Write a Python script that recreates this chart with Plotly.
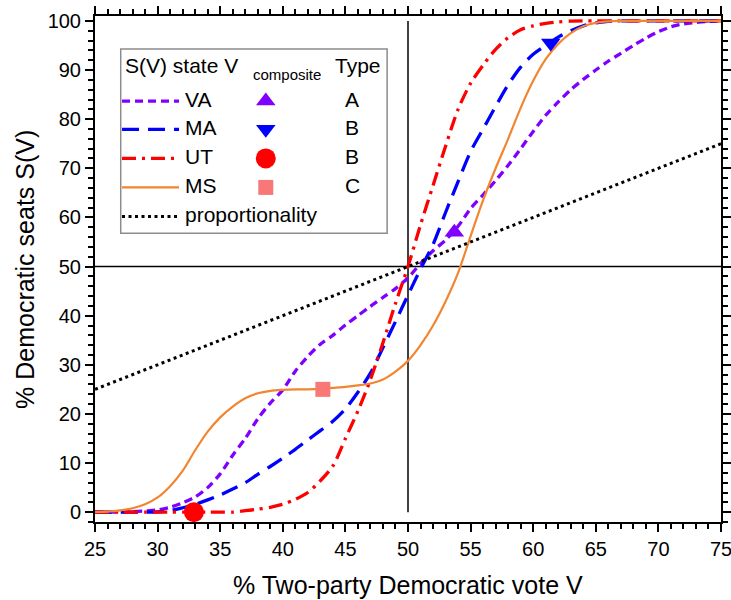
import plotly.graph_objects as go

# ---------------------------------------------------------------------------
# Seats-votes curves S(V) for four states, plus proportional representation
# ---------------------------------------------------------------------------
V = list(range(25, 76))  # % two-party Democratic vote

S_VA = [0, 0, 0.05, 0.1, 0.25, 0.45, 1.0, 1.9, 3.1, 5.0,
        7.8, 11.6, 15.0, 19.0, 22.2, 24.9, 28.7, 31.7, 34.2, 36.0,
        38.1, 40.0, 41.9, 43.7, 45.5, 47.7, 50.6, 53.2, 55.4, 58.2,
        61.8, 64.6, 67.5, 70.6, 74.0, 77.5, 80.8, 83.5, 86.0, 88.1,
        90.0, 91.8, 93.4, 95.0, 96.5, 97.8, 98.8, 99.4, 99.7, 99.9, 100]

S_MA = [0, 0, 0, 0, 0, 0.05, 0.3, 0.9, 1.6, 2.5,
        3.5, 4.7, 6.0, 7.7, 9.3, 11.0, 12.8, 14.7, 16.6, 18.5,
        21.0, 24.4, 28.3, 33.5, 38.8, 44.2, 49.5, 54.5, 61.0, 67.3,
        73.4, 78.0, 82.6, 87.0, 90.6, 93.2, 95.0, 96.7, 98.0, 99.0,
        99.6, 99.9, 100, 100, 100, 100, 100, 100, 100, 100, 100]

S_UT = [0, 0, 0, 0, 0, 0, 0, 0, 0, 0,
        0, 0, 0.3, 0.6, 1.0, 1.6, 2.6, 4.0, 6.4, 9.4,
        15.0, 20.6, 27.0, 34.5, 42.5, 50.0, 58.5, 66.5, 74.5, 82.0,
        87.3, 91.0, 94.2, 96.6, 98.2, 99.0, 99.5, 99.8, 99.95, 100,
        100, 100, 100, 100, 100, 100, 100, 100, 100, 100, 100]

S_MS = [0, 0.1, 0.35, 0.8, 1.6, 3.0, 5.3, 8.4, 12.6, 16.4,
        19.3, 21.5, 23.2, 24.2, 24.7, 24.9, 25.0, 25.0, 25.1, 25.3,
        25.5, 25.8, 26.2, 27.0, 28.6, 30.8, 34.0, 38.0, 42.9, 48.7,
        56.2, 63.5, 70.0, 76.0, 82.3, 87.8, 92.2, 95.3, 97.5, 98.9,
        99.6, 99.9, 100, 100, 100, 100, 100, 100, 100, 100, 100]

PROP_V = [25, 75]
PROP_S = [25, 75]

# Composite vote share of each state and the seat share there
STATES = ["VA", "MA", "UT", "MS"]
TYPES = ["A", "B", "B", "C"]
V_COMPOSITE = [53.7, 61.4, 32.9, 43.2]
S_COMPOSITE = [57.0, 95.5, 0.0, 25.0]

# ---------------------------------------------------------------------------
# Styles
# ---------------------------------------------------------------------------
FONT = "Liberation Sans, Arial, sans-serif"
LINE_COLORS = ["#8000FF", "#0000FF", "#FF0000", "#F28530"]
LINE_DASH = ["8px,5px", "17px,9px", "14px,6px,3px,6px", "solid"]
LINE_WIDTH = [3.3, 3.3, 3.3, 2.2]
MARKER_SYMBOLS = ["triangle-up", "triangle-down", "circle", "square"]
MARKER_COLORS = ["#8000FF", "#0000FF", "#FF0000", "#F87878"]
MARKER_SIZES = [17, 17, 20, 15]
PROP_DASH = "3px,3.5px"

W, H = 731, 600
PL, PR, PT, PB = 95.0, 720.7, 16.0, 521.7  # plot area in pixels
TEXT_DY = -2.0  # nudge so the glyphs sit centred on their row


def px(x):
    return (x - PL) / (PR - PL)


def py(y):
    return (PB - y) / (PB - PT)


fig = go.Figure()

curves = [S_VA, S_MA, S_UT, S_MS]
for name, s, col, dash, lw in zip(STATES, curves, LINE_COLORS, LINE_DASH, LINE_WIDTH):
    fig.add_trace(go.Scatter(
        x=V, y=s, mode="lines", name=name,
        line=dict(color=col, dash=dash, width=lw, shape="spline", smoothing=0.8),
        showlegend=False, hoverinfo="skip"))

fig.add_trace(go.Scatter(
    x=PROP_V, y=PROP_S, mode="lines", name="proportionality",
    line=dict(color="black", dash=PROP_DASH, width=3),
    showlegend=False, hoverinfo="skip"))

for i in range(len(STATES)):
    fig.add_trace(go.Scatter(
        x=[V_COMPOSITE[i]], y=[S_COMPOSITE[i]], mode="markers",
        marker=dict(symbol=MARKER_SYMBOLS[i], color=MARKER_COLORS[i], opacity=1,
                    size=MARKER_SIZES[i], line=dict(width=0)),
        showlegend=False, hoverinfo="skip", cliponaxis=False))

# ---------------------------------------------------------------------------
# Hand-built legend table: line sample | state | V_composite marker | type
# ---------------------------------------------------------------------------
ROW_Y = [101.0, 129.3, 158.3, 187.3]
PROP_ROW_Y = 216.5
SAMPLE_X0, SAMPLE_X1 = 122.0, 179.0
LABEL_X = 183.0
MARKER_X = 265.7
TYPE_X = 352.3
BOX = (120.7, 49.0, 387.0, 233.0)

shapes = [
    dict(type="rect", xref="paper", yref="paper",
         x0=px(BOX[0]), x1=px(BOX[2]), y0=py(BOX[3]), y1=py(BOX[1]),
         line=dict(color="#8c8c8c", width=1.5), fillcolor="white", layer="below"),
    # reference lines at 50 % vote and 50 % seats
    dict(type="line", xref="x", yref="y", x0=50, x1=50, y0=0, y1=100,
         line=dict(color="black", width=1.5), layer="below"),
    dict(type="line", xref="x", yref="y", x0=25, x1=75, y0=50, y1=50,
         line=dict(color="black", width=1.5), layer="below"),
]
for i in range(len(STATES)):
    shapes.append(dict(type="line", xref="paper", yref="paper",
                       x0=px(SAMPLE_X0), x1=px(SAMPLE_X1), y0=py(ROW_Y[i]), y1=py(ROW_Y[i]),
                       line=dict(color=LINE_COLORS[i], dash=LINE_DASH[i], width=LINE_WIDTH[i])))
shapes.append(dict(type="line", xref="paper", yref="paper",
                   x0=px(SAMPLE_X0), x1=px(SAMPLE_X1), y0=py(PROP_ROW_Y), y1=py(PROP_ROW_Y),
                   line=dict(color="black", dash=PROP_DASH, width=3)))

fig.add_trace(go.Scatter(
    x=[px(MARKER_X)] * len(STATES), y=[py(r) for r in ROW_Y],
    xaxis="x2", yaxis="y2", mode="markers",
    marker=dict(symbol=MARKER_SYMBOLS, color=MARKER_COLORS, size=MARKER_SIZES,
                opacity=1, line=dict(width=0)),
    showlegend=False, hoverinfo="skip", cliponaxis=False))

LEG_FONT = dict(family=FONT, size=21, color="black")


def label(text, x, y, anchor="left", font=LEG_FONT):
    return dict(text=text, x=px(x), y=py(y + TEXT_DY), xanchor=anchor, yanchor="middle",
                xref="paper", yref="paper", showarrow=False, font=font)


annotations = [
    label("S(V) state V", 123.0, 67.0),
    label("composite", 251.0, 76.0, font=dict(family=FONT, size=15, color="black")),
    label("Type", 333.0, 67.0),
]
for i in range(len(STATES)):
    annotations.append(label(STATES[i], LABEL_X, ROW_Y[i]))
    annotations.append(label(TYPES[i], TYPE_X, ROW_Y[i], anchor="center"))
annotations.append(label("proportionality", LABEL_X, PROP_ROW_Y))

# axis titles
TITLE_FONT = dict(family=FONT, size=25, color="black")
annotations.append(dict(text="% Two-party Democratic vote V", x=0.5, y=py(585.0),
                        xanchor="center", yanchor="middle", xref="paper", yref="paper",
                        showarrow=False, font=TITLE_FONT))
annotations.append(dict(text="% Democratic seats S(V)", x=px(25.0), y=0.5, textangle=-90,
                        xanchor="center", yanchor="middle", xref="paper", yref="paper",
                        showarrow=False, font=TITLE_FONT))

axis_common = dict(
    showline=True, linecolor="black", linewidth=2, mirror="ticks",
    ticks="outside", ticklen=8, tickwidth=2, tickcolor="black",
    showgrid=False, zeroline=False, automargin=False, ticklabeloverflow="allow",
    tickfont=dict(family=FONT, size=20, color="black"),
)

fig.update_layout(
    width=W, height=H,
    margin=dict(l=PL, r=W - PR, t=PT, b=H - PB, pad=0, autoexpand=False),
    paper_bgcolor="white", plot_bgcolor="white",
    showlegend=False,
    xaxis=dict(range=[25, 75], tick0=25, dtick=5,
               minor=dict(dtick=1, ticks="outside", ticklen=5, tickwidth=1.5, tickcolor="black"),
               **axis_common),
    yaxis=dict(range=[-2, 101], tick0=0, dtick=10,
               minor=dict(tick0=0, dtick=2, ticks="outside", ticklen=5, tickwidth=1.5,
                          tickcolor="black"),
               **axis_common),
    xaxis2=dict(overlaying="x", range=[0, 1], visible=False, fixedrange=True),
    yaxis2=dict(overlaying="y", range=[0, 1], visible=False, fixedrange=True),
    shapes=shapes,
    annotations=annotations,
)

fig.write_html("out.html")
